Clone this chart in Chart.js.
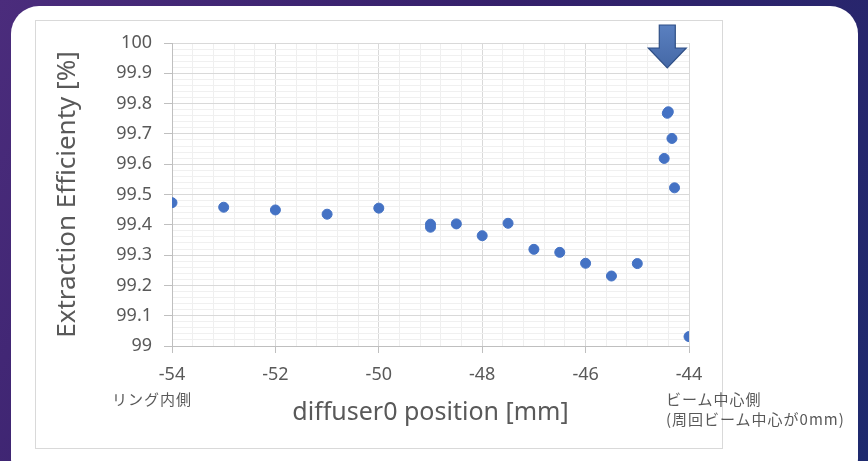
<!DOCTYPE html>
<html>
<head>
<meta charset="utf-8">
<script src="https://cdn.jsdelivr.net/npm/chart.js@4.4.0/dist/chart.umd.min.js"></script>
<style>
  html, body { margin: 0; padding: 0; }
  body {
    width: 868px; height: 461px; overflow: hidden; position: relative;
    background: linear-gradient(120deg, #4b2c7c 0%, #35206b 45%, #1e2a6e 100%);
    font-family: "Noto Sans", "Noto Sans CJK JP", sans-serif;
  }
  #panel {
    position: absolute; left: 11px; top: 6px; width: 847px; height: 480px;
    background: linear-gradient(180deg, #ffffff 0%, #ffffff 96%, #f2f2f2 100%);
    border-radius: 28px;
  }
  #frame {
    position: absolute; left: 35px; top: 20px; width: 688px; height: 429px;
    border: 1px solid #d9d9d9; box-sizing: border-box; background: #ffffff;
  }
  canvas { position: absolute; left: 0; top: 0; }
  .note {
    position: absolute; color: #595959; font-size: 15px; line-height: 20px; letter-spacing: 1px;
    font-family: "Noto Sans CJK JP", "Noto Sans", sans-serif; white-space: nowrap;
  }
</style>
</head>
<body>
<div id="panel"></div>
<div id="frame"></div>
<canvas id="chart" width="868" height="461"></canvas>
<div class="note" style="left:112px; top:389px;">リング内側</div>
<div class="note" style="left:666px; top:389px;">ビーム中心側<br>(周回ビーム中心が0mm)</div>

<script>
// données
const positions = [-54, -53, -52, -51, -50, -49, -49, -48.5, -48, -47.5, -47, -46.5, -46, -45.5, -45,
                   -44.48, -44.42, -44.40, -44.33, -44.28, -44];
const efficiencies = [99.473, 99.458, 99.449, 99.435, 99.455, 99.402, 99.392, 99.403, 99.364, 99.405, 99.319,
                      99.309, 99.273, 99.231, 99.272, 99.619, 99.768, 99.773, 99.685, 99.522, 99.031];
const xRange = [-54, -44];
const yRange = [99, 100];
const arrowPosition = -44.42;

const points = positions.map((x, i) => ({ x: x, y: efficiencies[i] }));

const isMultiple = (v, step) => Math.abs(v / step - Math.round(v / step)) < 1e-6;
const textColor = '#595959';

// flèche bleue au-dessus du graphique
const arrowPlugin = {
  id: 'arrow',
  afterDraw(chart) {
    const ctx = chart.ctx;
    const cx = chart.scales.x.getPixelForValue(arrowPosition);
    const top = chart.chartArea.top - 18;
    const tip = chart.chartArea.top + 25;
    const neck = top + 23;
    ctx.save();
    ctx.beginPath();
    ctx.moveTo(cx - 8, top);
    ctx.lineTo(cx + 8, top);
    ctx.lineTo(cx + 8, neck);
    ctx.lineTo(cx + 19, neck);
    ctx.lineTo(cx, tip);
    ctx.lineTo(cx - 19, neck);
    ctx.lineTo(cx - 8, neck);
    ctx.closePath();
    const grad = ctx.createLinearGradient(0, top, 0, tip);
    grad.addColorStop(0, '#5a80c0');
    grad.addColorStop(1, '#4568a6');
    ctx.fillStyle = grad;
    ctx.fill();
    ctx.lineWidth = 1.2;
    ctx.strokeStyle = '#2f4f86';
    ctx.stroke();
    ctx.restore();
  }
};

new Chart(document.getElementById('chart').getContext('2d'), {
  type: 'scatter',
  data: {
    datasets: [{
      data: points,
      backgroundColor: '#4472c4',
      borderColor: '#4472c4',
      pointRadius: 5,
      pointHoverRadius: 5
    }]
  },
  options: {
    responsive: false,
    animation: false,
    layout: { padding: { left: 40, top: 43, right: 179, bottom: 20 } },
    plugins: { legend: { display: false }, tooltip: { enabled: false } },
    scales: {
      x: {
        type: 'linear',
        min: xRange[0],
        max: xRange[1],
        afterFit: scale => { scale.height = 95; },
        ticks: {
          stepSize: 0.4,
          autoSkip: false,
          maxRotation: 0,
          padding: 11,
          color: textColor,
          font: { family: 'Noto Sans', size: 18 },
          callback: v => isMultiple(v, 2) ? String(Math.round(v)) : ''
        },
        grid: {
          tickLength: 7,
          lineWidth: 1,
          color: c => isMultiple(c.tick.value, 2) ? '#d9d9d9' : '#efefef',
          tickColor: c => isMultiple(c.tick.value, 2) ? '#bfbfbf' : 'rgba(0,0,0,0)'
        },
        border: { color: '#bfbfbf' },
        title: {
          display: true,
          text: 'diffuser0 position [mm]',
          color: textColor,
          font: { family: 'Noto Sans', size: 25 },
          padding: { top: 0, bottom: 13 }
        }
      },
      y: {
        min: yRange[0],
        max: yRange[1],
        afterFit: scale => { scale.width = 132; },
        ticks: {
          stepSize: 0.02,
          autoSkip: false,
          padding: 12,
          color: textColor,
          font: { family: 'Noto Sans', size: 18 },
          callback: v => isMultiple(v, 0.1) ? String(Math.round(v * 10) / 10) : ''
        },
        grid: {
          tickLength: 8,
          lineWidth: 1,
          color: c => isMultiple(c.tick.value, 0.1) ? '#d9d9d9' : '#f0f0f0',
          tickColor: c => isMultiple(c.tick.value, 0.1) ? '#bfbfbf' : 'rgba(0,0,0,0)'
        },
        border: { color: '#bfbfbf' },
        title: {
          display: true,
          text: 'Extraction Efficienty [%]',
          color: textColor,
          font: { family: 'Noto Sans', size: 26 },
          padding: { top: 12, bottom: 0 }
        }
      }
    }
  },
  plugins: [arrowPlugin]
});
</script>
</body>
</html>
